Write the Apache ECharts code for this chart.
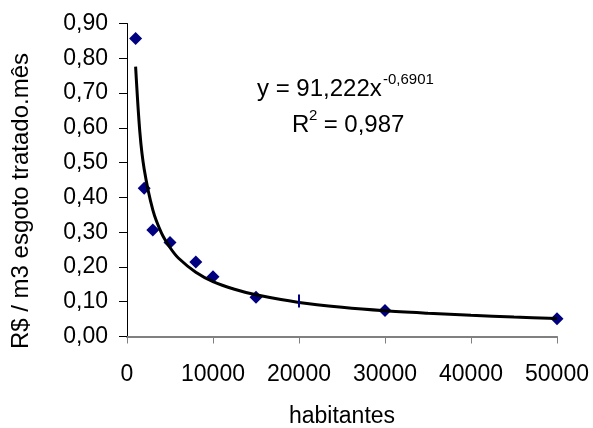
<!DOCTYPE html>
<html>
<head>
<meta charset="utf-8">
<script src="https://cdn.jsdelivr.net/npm/echarts@6/dist/echarts.min.js"></script>
<style>
html,body{margin:0;padding:0;background:#fff;}
#chart{width:593px;height:428px;}
</style>
</head>
<body>
<div id="chart"></div>
<script>
// Observed data (habitantes, R$/m3)
var popX = [1000, 2000, 3000, 5000, 8000, 10000, 15000, 30000, 50000];
var costY = [0.857, 0.426, 0.306, 0.270, 0.214, 0.172, 0.113, 0.075, 0.051];
// Point shown with a dash marker
var dashX = [20000];
var dashY = [0.102];
// Power trendline points
var trendX = [1000, 1500, 2000, 3000, 4000, 5000, 6000, 8000, 10000, 12500, 15000, 20000, 25000, 30000, 35000, 40000, 45000, 50000];
var trendY = [0.776, 0.586, 0.481, 0.364, 0.298, 0.256, 0.225, 0.185, 0.158, 0.136, 0.120, 0.098, 0.084, 0.074, 0.067, 0.061, 0.056, 0.052];
var xTicks = [0, 10000, 20000, 30000, 40000, 50000];
var yTickLabels = ['0,00','0,10','0,20','0,30','0,40','0,50','0,60','0,70','0,80','0,90'];
var xTitle = 'habitantes';
var yTitle = 'R$ / m3 esgoto tratado.mês';
var eqMain = 'y = 91,222x';
var eqExp = '-0,6901';
var r2Main = 'R';
var r2Sup = '2';
var r2Rest = ' = 0,987';

var FONT = 'Liberation Sans, Arial, sans-serif';
var chart = echarts.init(document.getElementById('chart'), null, {renderer: 'canvas'});

function zip(a, b) { return a.map(function (v, i) { return [v, b[i]]; }); }

chart.setOption({
  backgroundColor: '#ffffff',
  animation: false,
  grid: {left: 127, right: 36, top: 23.5, bottom: 91.5, containLabel: false, outerBoundsMode: 'none'},
  xAxis: {
    type: 'value', min: 0, max: 50000, interval: 10000,
    name: xTitle, nameLocation: 'middle', nameGap: 69,
    nameTextStyle: {fontFamily: FONT, fontSize: 23, color: '#000'},
    axisLine: {show: true, lineStyle: {color: '#808080', width: 2}},
    axisTick: {show: true, inside: false, length: 7, lineStyle: {color: '#808080', width: 1}},
    axisLabel: {fontFamily: FONT, fontSize: 23, color: '#000', margin: 27,
      formatter: function (v) { return String(v); }},
    splitLine: {show: false}
  },
  yAxis: {
    type: 'value', min: 0, max: 0.9, interval: 0.1,
    axisLine: {show: true, onZero: false, lineStyle: {color: '#000', width: 1}},
    axisTick: {show: true, inside: false, length: 8, lineStyle: {color: '#000', width: 1}},
    axisLabel: {fontFamily: FONT, fontSize: 23, color: '#000', margin: 19,
      formatter: function (v) { return yTickLabels[Math.round(v * 10)]; }},
    splitLine: {show: false}
  },
  series: [
    {
      type: 'scatter', data: zip(popX, costY), symbol: 'diamond', symbolSize: 13,
      itemStyle: {color: '#000080', opacity: 1}, z: 2
    },
    {
      type: 'scatter', data: zip(dashX, dashY), symbol: 'rect', symbolSize: [2, 13],
      itemStyle: {color: '#000080', opacity: 1}, z: 4
    },
    {
      type: 'line', data: zip(trendX, trendY), showSymbol: false, smooth: 0.3,
      lineStyle: {color: '#000', width: 3}, z: 3
    }
  ],
  graphic: [
    {type: 'text', position: [21, 201], rotation: Math.PI / 2,
      style: {text: yTitle, font: '24px ' + FONT, fill: '#000', textAlign: 'center', textVerticalAlign: 'middle'}},
    {type: 'text', position: [257, 89], style: {text: eqMain, font: '24px ' + FONT, fill: '#000', textAlign: 'left', textVerticalAlign: 'middle'}},
    {type: 'text', position: [383, 80], style: {text: eqExp, font: '15px ' + FONT, fill: '#000', textAlign: 'left', textVerticalAlign: 'middle'}},
    {type: 'text', position: [292, 125], style: {text: r2Main, font: '24px ' + FONT, fill: '#000', textAlign: 'left', textVerticalAlign: 'middle'}},
    {type: 'text', position: [309, 116], style: {text: r2Sup, font: '15px ' + FONT, fill: '#000', textAlign: 'left', textVerticalAlign: 'middle'}},
    {type: 'text', position: [317, 125], style: {text: r2Rest, font: '24px ' + FONT, fill: '#000', textAlign: 'left', textVerticalAlign: 'middle'}}
  ]
});
</script>
</body>
</html>
